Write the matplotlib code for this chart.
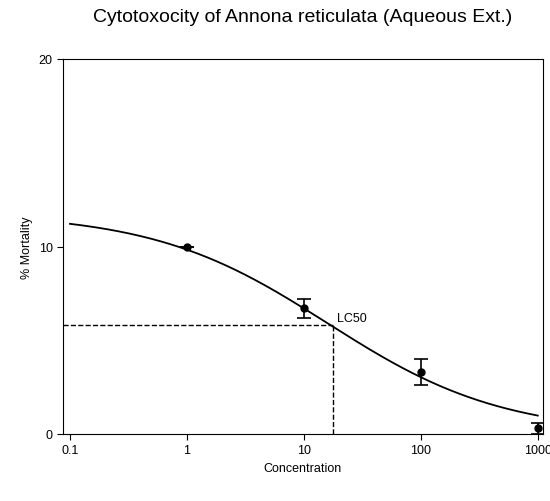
import numpy as np
import matplotlib
matplotlib.use("Agg")
import matplotlib.pyplot as plt

plt.rcParams['font.family'] = ['Liberation Sans', 'DejaVu Sans']

conc = [1, 10, 100, 1000]
mortality = [10.0, 6.7, 3.3, 0.3]
err = [0.0, 0.5, 0.7, 0.3]
top, lc50, hill = 11.8, 16.0, 0.58
lc50_y = 5.8

fig = plt.figure(figsize=(5.5, 5.02), dpi=100)
ax = fig.add_axes([63/550, 1-435/502, 480/550, 375/502])
xs = np.logspace(-1, 3, 300)
ax.plot(xs, top/(1+(xs/lc50)**hill), color='black', lw=1.3)
ax.errorbar(conc, mortality, yerr=err, fmt='o', color='black', ms=5, capsize=5, elinewidth=1.2, capthick=1.2)
ax.plot([10**-1.06, lc50*1.1], [lc50_y, lc50_y], 'k--', lw=1)
ax.plot([lc50*1.1, lc50*1.1], [0, lc50_y], 'k--', lw=1)
ax.text(lc50*1.2, lc50_y+0.05, 'LC50', fontsize=9, va='bottom')
ax.set_xscale('log')
ax.set_xlim(10**-1.06, 10**3.045)
ax.set_ylim(0, 20)
ax.set_xticks([0.1, 1, 10, 100, 1000])
ax.set_xticklabels(['0.1', '1', '10', '100', '1000'])
ax.minorticks_off()
ax.set_yticks([0, 10, 20])
ax.tick_params(direction='out', labelsize=9, length=4)
ax.set_xlabel('Concentration', fontsize=9)
ax.set_ylabel('% Mortality', fontsize=9)
fig.text(0.55, 1-18/502, 'Cytotoxocity of Annona reticulata (Aqueous Ext.)', ha='center', va='center', fontsize=14)
fig.savefig('out.png')
